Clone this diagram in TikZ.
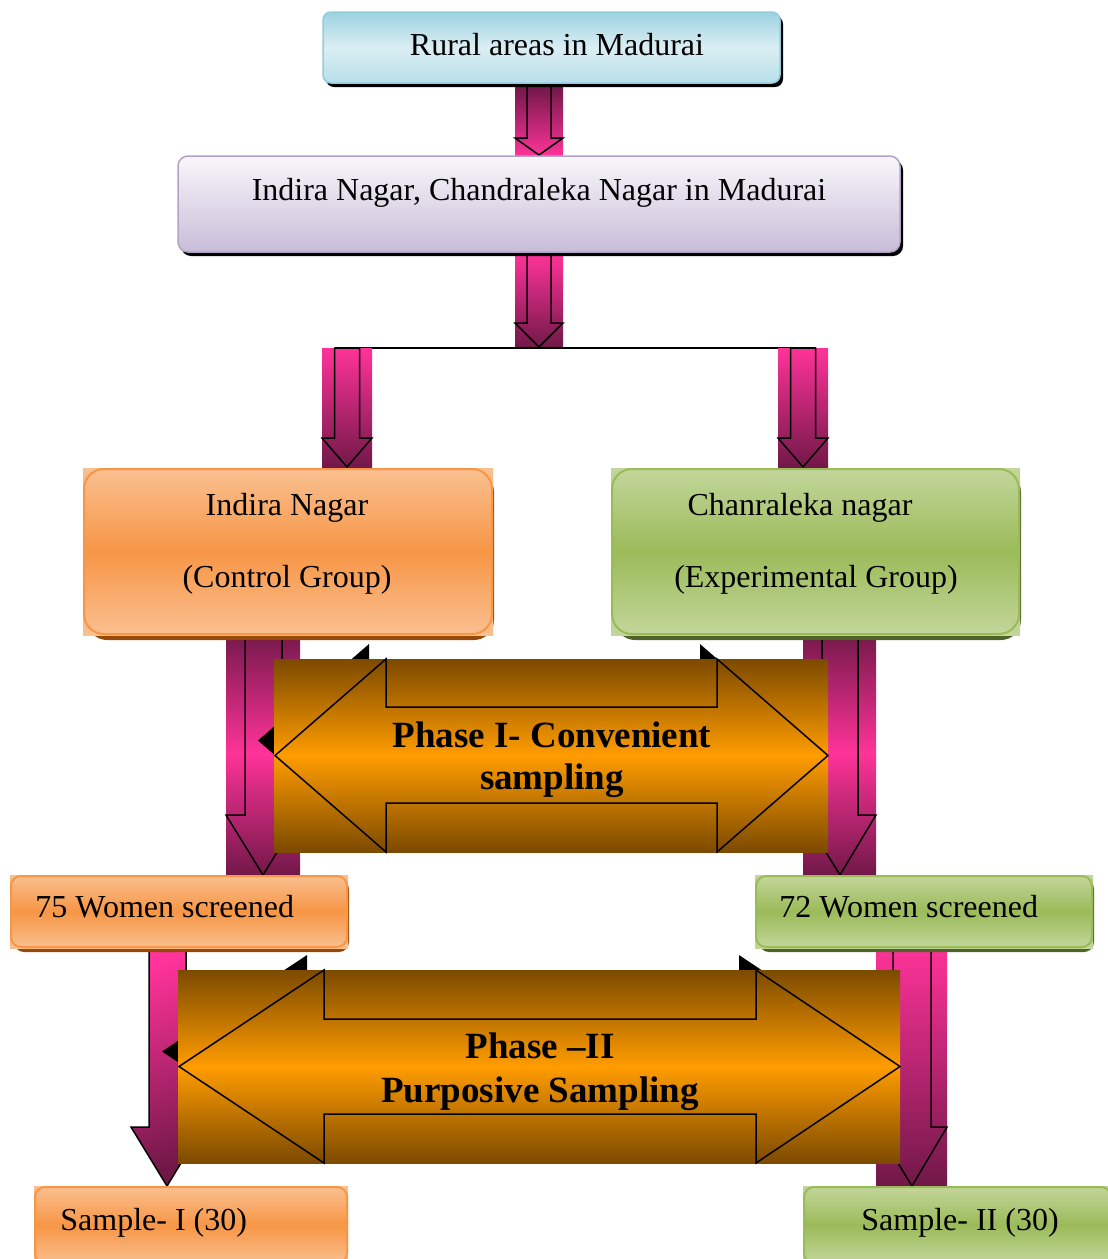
\documentclass[tikz,border=0pt]{standalone}
\usepackage{fontspec}
\setmainfont{Liberation Serif}
\definecolor{pinkB}{HTML}{FF3399}
\definecolor{pinkD}{HTML}{701848}
\definecolor{brD}{HTML}{7C4A00}
\definecolor{orM}{HTML}{FF9C00}
\definecolor{cyanD}{HTML}{9CD2E0}
\definecolor{cyanL}{HTML}{DAEEF3}
\definecolor{cyanM}{HTML}{B8DFEA}
\definecolor{cyanBd}{HTML}{93CDDD}
\definecolor{lavT}{HTML}{F8F6FA}
\definecolor{lavB}{HTML}{C9BDD8}
\definecolor{lavBd}{HTML}{B3A2C7}
\definecolor{orgL}{HTML}{FAC090}
\definecolor{orgM}{HTML}{F79646}
\definecolor{orgS}{HTML}{984807}
\definecolor{grnL}{HTML}{C3D69B}
\definecolor{grnM}{HTML}{9BBB59}
\definecolor{grnS}{HTML}{4F6228}
\begin{document}
\begin{tikzpicture}[x=0.5pt,y=-0.5pt,
  txt/.style={inner sep=0pt, font=\fontsize{16}{19}\selectfont, anchor=base},
  btxt/.style={inner sep=0pt, font=\fontsize{18.5}{22}\selectfont\bfseries, anchor=base},
  outl/.style={draw=black, line width=0.75pt},
  pinkdown/.style={top color=pinkB, bottom color=pinkD},
  pinkup/.style={top color=pinkD, bottom color=pinkB},
  pinkmid/.style={top color=pinkD, bottom color=pinkD, middle color=pinkB},
  orgbox/.style={top color=orgL, bottom color=orgL, middle color=orgM},
  grnbox/.style={top color=grnL, bottom color=grnL, middle color=grnM},
  phasefill/.style={top color=brD, bottom color=brD, middle color=orM}]
\useasboundingbox (0,0) rectangle (1108,1259);
\clip (0,0) rectangle (1108,1259);

% ---------- arrows (drawn first) ----------
% Rural -> Indira/Chandraleka
\shade[pinkup] (515,86) rectangle (563,156);
\draw[outl] (527,86) -- (551,86) -- (551,138) -- (563,138) -- (539,155) -- (515,138) -- (527,138) -- cycle;
% box2 -> split
\shade[pinkdown] (515,254) rectangle (563,348);
\draw[outl] (527,254) -- (551,254) -- (551,323) -- (563,323) -- (539,347) -- (515,323) -- (527,323) -- cycle;
% split line
\draw[line width=0.8pt] (334.5,348) -- (815.5,348);
% to Indira Nagar
\shade[pinkdown] (322,348) rectangle (372,468);
\draw[outl] (334.5,348) -- (359.5,348) -- (359.5,438) -- (372,438) -- (347,467) -- (322,438) -- (334.5,438) -- cycle;
% to Chanraleka
\shade[pinkdown] (778,348) rectangle (828,468);
\draw[outl] (790.5,348) -- (815.5,348) -- (815.5,438) -- (828,438) -- (803,467) -- (778,438) -- (790.5,438) -- cycle;
% Indira -> 75 women
\shade[pinkmid] (226,630) rectangle (300,876);
\draw[outl] (245,630) -- (282,630) -- (282,815) -- (300,815) -- (263,875) -- (226,815) -- (245,815) -- cycle;
% Chanraleka -> 72 women
\shade[pinkmid] (803,630) rectangle (876,876);
\draw[outl] (822,630) -- (858,630) -- (858,815) -- (876,815) -- (840,875) -- (803,815) -- (822,815) -- cycle;
% 75 women -> Sample I
\shadedraw[pinkdown, shading angle=20, outl] (149,945) -- (186,945) -- (186,1127) -- (203,1127) -- (167,1186) -- (131,1127) -- (149,1127) -- cycle;
% 72 women -> Sample II
\shade[pinkdown] (876,945) rectangle (947,1187);
\draw[outl] (893,945) -- (931,945) -- (931,1127) -- (947,1127) -- (912,1186) -- (876,1127) -- (893,1127) -- cycle;

% ---------- boxes ----------
% Rural areas
\fill[black, rounded corners=4pt] (326,16) rectangle (783,87);
\shadedraw[top color=cyanD, bottom color=cyanM, middle color=cyanL, draw=cyanBd, line width=0.75pt, rounded corners=4pt] (323,12) rectangle (780,83);
\node[txt] (rural) at (557,55) {Rural areas in Madurai};

% Indira Nagar, Chandraleka Nagar
\fill[black, rounded corners=5pt] (181,160) rectangle (903,256);
\shadedraw[top color=lavT, bottom color=lavB, draw=lavBd, line width=0.75pt, rounded corners=5pt] (178,156) rectangle (900,252);
\node[txt] (both) at (539,200) {Indira Nagar, Chandraleka Nagar in Madurai};

% Indira Nagar (control)
\fill[orgS, rounded corners=10pt] (87,472) rectangle (494,640);
\shade[orgbox] (83,468) rectangle (493,635);
\draw[orgM, line width=1pt, rounded corners=10pt] (84,469) rectangle (492,634);
\node[txt] (ind1) at (287,515) {Indira Nagar};
\node[txt] (ind2) at (287,587) {(Control Group)};

% Chanraleka nagar (experimental)
\fill[grnS, rounded corners=10pt] (615,472) rectangle (1021,640);
\shade[grnbox] (611,468) rectangle (1020,635);
\draw[grnM, line width=1pt, rounded corners=10pt] (612,469) rectangle (1019,634);
\node[txt] (chn1) at (800,515) {Chanraleka nagar};
\node[txt] (chn2) at (816,587) {(Experimental Group)};

% 75 women
\fill[orgS, rounded corners=5pt] (14,879) rectangle (349,952);
\shade[orgbox] (10,875) rectangle (348,948);
\draw[orgM, line width=1pt, rounded corners=5pt] (11,876) rectangle (347,947);
\node[txt, anchor=base west] (w75) at (35,917) {75 Women screened};

% 72 women
\fill[grnS, rounded corners=5pt] (759,879) rectangle (1094,952);
\shade[grnbox] (755,875) rectangle (1093,948);
\draw[grnM, line width=1pt, rounded corners=5pt] (756,876) rectangle (1092,947);
\node[txt, anchor=base west] (w72) at (779,917) {72 Women screened};

% Sample I
\shade[orgbox] (34,1186) rectangle (348,1264);
\draw[orgM, line width=1pt, rounded corners=5pt] (35,1187) rectangle (347,1263);
\node[txt, anchor=base west] (s1) at (60,1230) {Sample- I (30)};

% Sample II
\shade[grnbox] (803,1186) rectangle (1112,1264);
\draw[grnM, line width=1pt, rounded corners=5pt] (804,1187) rectangle (1111,1263);
\node[txt, anchor=base west] (s2) at (861,1230) {Sample- II (30)};

% ---------- Phase I ----------
\fill[black, shift={(-17,-15)}] (275,755.5) -- (386,659) -- (386,707) -- (717,707) -- (717,659) -- (828,755.5) -- (717,852) -- (717,803) -- (386,803) -- (386,852) -- cycle;
\shade[phasefill] (274,659) rectangle (828,852);
\draw[outl] (275,755.5) -- (386,659) -- (386,707) -- (717,707) -- (717,659) -- (828,755.5) -- (717,852) -- (717,803) -- (386,803) -- (386,852) -- cycle;
\node[btxt] (ph1a) at (552,747) {Phase I- Convenient};
\node[btxt] (ph1b) at (552,789) {sampling};

% ---------- Phase II ----------
\fill[black, shift={(-17,-15)}] (179,1066.5) -- (324,970) -- (324,1019) -- (756,1019) -- (756,970) -- (900,1066.5) -- (756,1163) -- (756,1114) -- (324,1114) -- (324,1163) -- cycle;
\shade[phasefill] (178,970) rectangle (900,1163);
\draw[outl] (179,1066.5) -- (324,970) -- (324,1019) -- (756,1019) -- (756,970) -- (900,1066.5) -- (756,1163) -- (756,1114) -- (324,1114) -- (324,1163) -- cycle;
\node[btxt] (ph2a) at (540,1058) {Phase –II};
\node[btxt] (ph2b) at (540,1102) {Purposive Sampling};
\end{tikzpicture}
\end{document}
